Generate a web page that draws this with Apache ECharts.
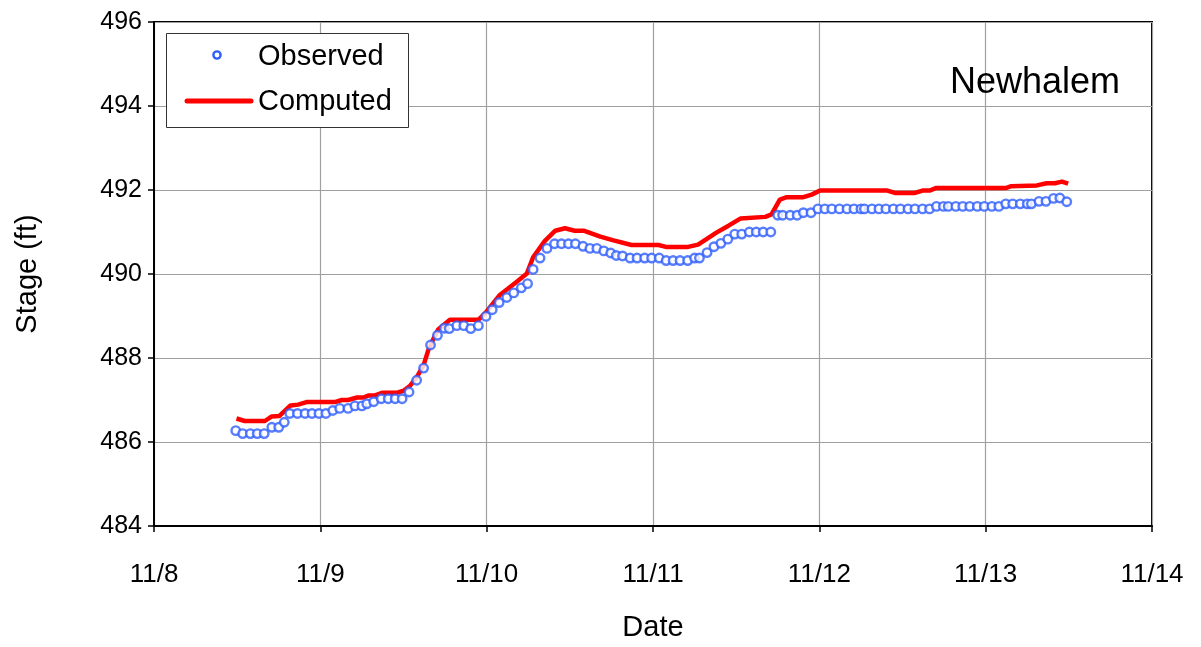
<!DOCTYPE html>
<html>
<head>
<meta charset="utf-8">
<script src="https://cdn.jsdelivr.net/npm/echarts@6/dist/echarts.min.js"></script>
<style>
html,body{margin:0;padding:0;background:#fff;}
#chart{width:1201px;height:647px;}
</style>
</head>
<body>
<div id="chart"></div>
<script>
// Tick labels for the date axis (hours since 11/8 00:00, one label per 24 h)
const dateLabels = ['11/8', '11/9', '11/10', '11/11', '11/12', '11/13', '11/14'];
const seriesNames = ['Observed', 'Computed'];

// Observed stage: [hours since 11/8 00:00, stage ft]
const observed = [
  [11.8,486.27],[12.8,486.20],[13.9,486.20],[14.9,486.20],[15.9,486.20],[17.0,486.35],[18.0,486.35],[18.8,486.47],
  [19.6,486.68],[20.7,486.68],[21.8,486.68],[22.8,486.68],[23.8,486.68],[24.8,486.68],[25.8,486.75],[26.8,486.80],
  [28.0,486.80],[29.0,486.86],[30.0,486.86],[30.7,486.91],[31.7,486.96],[32.8,487.03],[33.8,487.03],[34.8,487.03],
  [35.8,487.03],[36.8,487.19],[37.9,487.47],[38.9,487.76],[39.9,488.31],[40.9,488.54],[41.9,488.71],[42.6,488.70],
  [43.7,488.77],[44.7,488.77],[45.7,488.70],[46.8,488.77],[47.9,488.99],[48.8,489.15],[49.8,489.32],[50.9,489.44],
  [51.9,489.55],[53.0,489.67],[53.9,489.77],[54.7,490.11],[55.7,490.38],[56.7,490.61],[57.8,490.72],[58.8,490.72],
  [59.8,490.72],[60.8,490.72],[61.9,490.66],[62.9,490.61],[63.9,490.61],[64.9,490.55],[65.9,490.50],[66.7,490.44],
  [67.6,490.43],[68.7,490.38],[69.7,490.38],[70.8,490.38],[71.8,490.38],[72.9,490.38],[73.9,490.32],[74.9,490.32],
  [75.9,490.32],[77.0,490.32],[78.0,490.38],[78.7,490.38],[79.8,490.51],[80.8,490.65],[81.8,490.73],[82.8,490.83],
  [83.8,490.95],[84.8,490.95],[85.9,491.00],[86.9,491.00],[87.9,491.00],[89.0,491.00],[90.0,491.40],[90.7,491.40],
  [91.8,491.40],[92.8,491.40],[93.7,491.46],[94.8,491.46],[95.8,491.55],[96.8,491.55],[97.8,491.55],[98.9,491.55],
  [100.0,491.55],[101.0,491.55],[102.0,491.55],[102.5,491.55],[103.6,491.55],[104.6,491.55],[105.6,491.55],[106.7,491.55],
  [107.7,491.55],[108.8,491.55],[109.8,491.55],[110.9,491.55],[111.9,491.55],[112.9,491.61],[113.9,491.61],[114.6,491.61],
  [115.7,491.61],[116.7,491.61],[117.7,491.61],[118.8,491.61],[119.8,491.61],[120.9,491.61],[121.9,491.61],[122.9,491.67],
  [123.9,491.67],[125.0,491.67],[126.0,491.67],[126.6,491.67],[127.7,491.73],[128.7,491.73],[129.8,491.80],[130.7,491.81],
  [131.7,491.72]
];

// Computed stage: [hours since 11/8 00:00, stage ft]
const computed = [
  [11.9,486.56],[13.1,486.50],[16.0,486.50],[17.0,486.61],[18.1,486.62],[19.7,486.87],[20.8,486.89],[22.0,486.95],
  [26.1,486.95],[27.1,487.00],[28.0,487.00],[29.3,487.06],[30.2,487.06],[31.0,487.11],[31.9,487.11],[32.9,487.17],
  [35.0,487.17],[36.0,487.22],[36.9,487.33],[37.9,487.54],[38.9,487.83],[39.6,488.20],[40.3,488.45],[41.0,488.68],
  [42.7,488.91],[46.8,488.91],[47.8,489.07],[49.9,489.50],[52.3,489.81],[53.8,490.01],[54.7,490.40],[56.4,490.79],
  [57.9,491.03],[59.3,491.09],[60.7,491.03],[62.0,491.03],[64.4,490.89],[66.3,490.80],[68.9,490.69],[72.8,490.69],
  [74.0,490.64],[76.9,490.64],[78.5,490.70],[81.2,490.99],[82.9,491.15],[84.6,491.32],[88.2,491.36],[89.1,491.42],
  [90.3,491.77],[91.3,491.83],[93.7,491.83],[94.9,491.89],[96.1,491.99],[105.7,491.99],[106.9,491.93],[109.8,491.93],
  [111.0,491.99],[112.0,491.99],[112.9,492.05],[123.0,492.05],[123.7,492.09],[127.4,492.11],[128.8,492.16],[130.0,492.16],
  [131.0,492.20],[131.9,492.15]
];

const FONT = '"Liberation Sans", Arial, sans-serif';
const BLUE = '#2f5efc';
const RED = '#ff0000';
const chart = echarts.init(document.getElementById('chart'), null, {renderer: 'canvas'});
chart.setOption({
  animation: false,
  backgroundColor: '#ffffff',
  grid: {
    left: 154, right: 49, top: 22, bottom: 115,
    show: true, borderColor: '#000', borderWidth: 2, backgroundColor: 'transparent'
  },
  legend: {show: false, data: seriesNames},
  graphic: [
    {type: 'rect', left: 166, top: 33, z: 10,
     shape: {width: 242, height: 94},
     style: {fill: '#fff', stroke: '#333', lineWidth: 1}},
    {type: 'circle', x: 217, y: 55, z: 11,
     shape: {r: 3.6}, style: {fill: '#fff', stroke: BLUE, lineWidth: 2.4}},
    {type: 'line', z: 11,
     shape: {x1: 187, y1: 101, x2: 251, y2: 101},
     style: {stroke: RED, lineWidth: 5, lineCap: 'round'}},
    {type: 'text', x: 258, y: 57, z: 11,
     style: {text: seriesNames[0], font: '29px ' + FONT, fill: '#000', textVerticalAlign: 'middle', verticalAlign: 'middle'}},
    {type: 'text', x: 258, y: 102, z: 11,
     style: {text: seriesNames[1], font: '29px ' + FONT, fill: '#000', textVerticalAlign: 'middle', verticalAlign: 'middle'}},
    {type: 'text', x: 950, y: 83, z: 11,
     style: {text: 'Newhalem', font: '36px ' + FONT, fill: '#000', textVerticalAlign: 'middle', verticalAlign: 'middle'}}
  ],
  xAxis: {
    type: 'value', min: 0, max: 144, interval: 24,
    name: 'Date', nameLocation: 'middle', nameGap: 87,
    nameTextStyle: {fontFamily: FONT, fontSize: 29, color: '#000'},
    axisLine: {show: true, lineStyle: {color: '#000', width: 2}},
    axisTick: {show: true, inside: false, length: 6, lineStyle: {color: '#000', width: 1.5}},
    axisLabel: {
      fontFamily: FONT, fontSize: 26, color: '#000', margin: 36,
      formatter: function (v) { return dateLabels[Math.round(v / 24)] || ''; }
    },
    splitLine: {show: true, lineStyle: {color: '#a0a0a0', width: 1.2}}
  },
  yAxis: {
    type: 'value', min: 484, max: 496, interval: 2,
    name: 'Stage (ft)', nameLocation: 'middle', nameGap: 112, nameRotate: 90,
    nameTextStyle: {fontFamily: FONT, fontSize: 29, color: '#000'},
    axisLine: {show: true, lineStyle: {color: '#000', width: 2}},
    axisTick: {show: true, inside: false, length: 6, lineStyle: {color: '#000', width: 1.5}},
    axisLabel: {fontFamily: FONT, fontSize: 25, color: '#000', margin: 12},
    splitLine: {show: true, lineStyle: {color: '#a0a0a0', width: 1.2}}
  },
  series: [
    {
      name: seriesNames[0], type: 'scatter', data: observed,
      symbol: 'circle', symbolSize: 8.5, z: 3,
      itemStyle: {color: '#ffffff', borderColor: BLUE, borderWidth: 2.4}
    },
    {
      name: seriesNames[1], type: 'line', data: computed,
      showSymbol: false, symbol: 'none', z: 2,
      lineStyle: {color: RED, width: 4.5, join: 'round'},
      itemStyle: {color: RED}
    }
  ]
});
</script>
</body>
</html>
